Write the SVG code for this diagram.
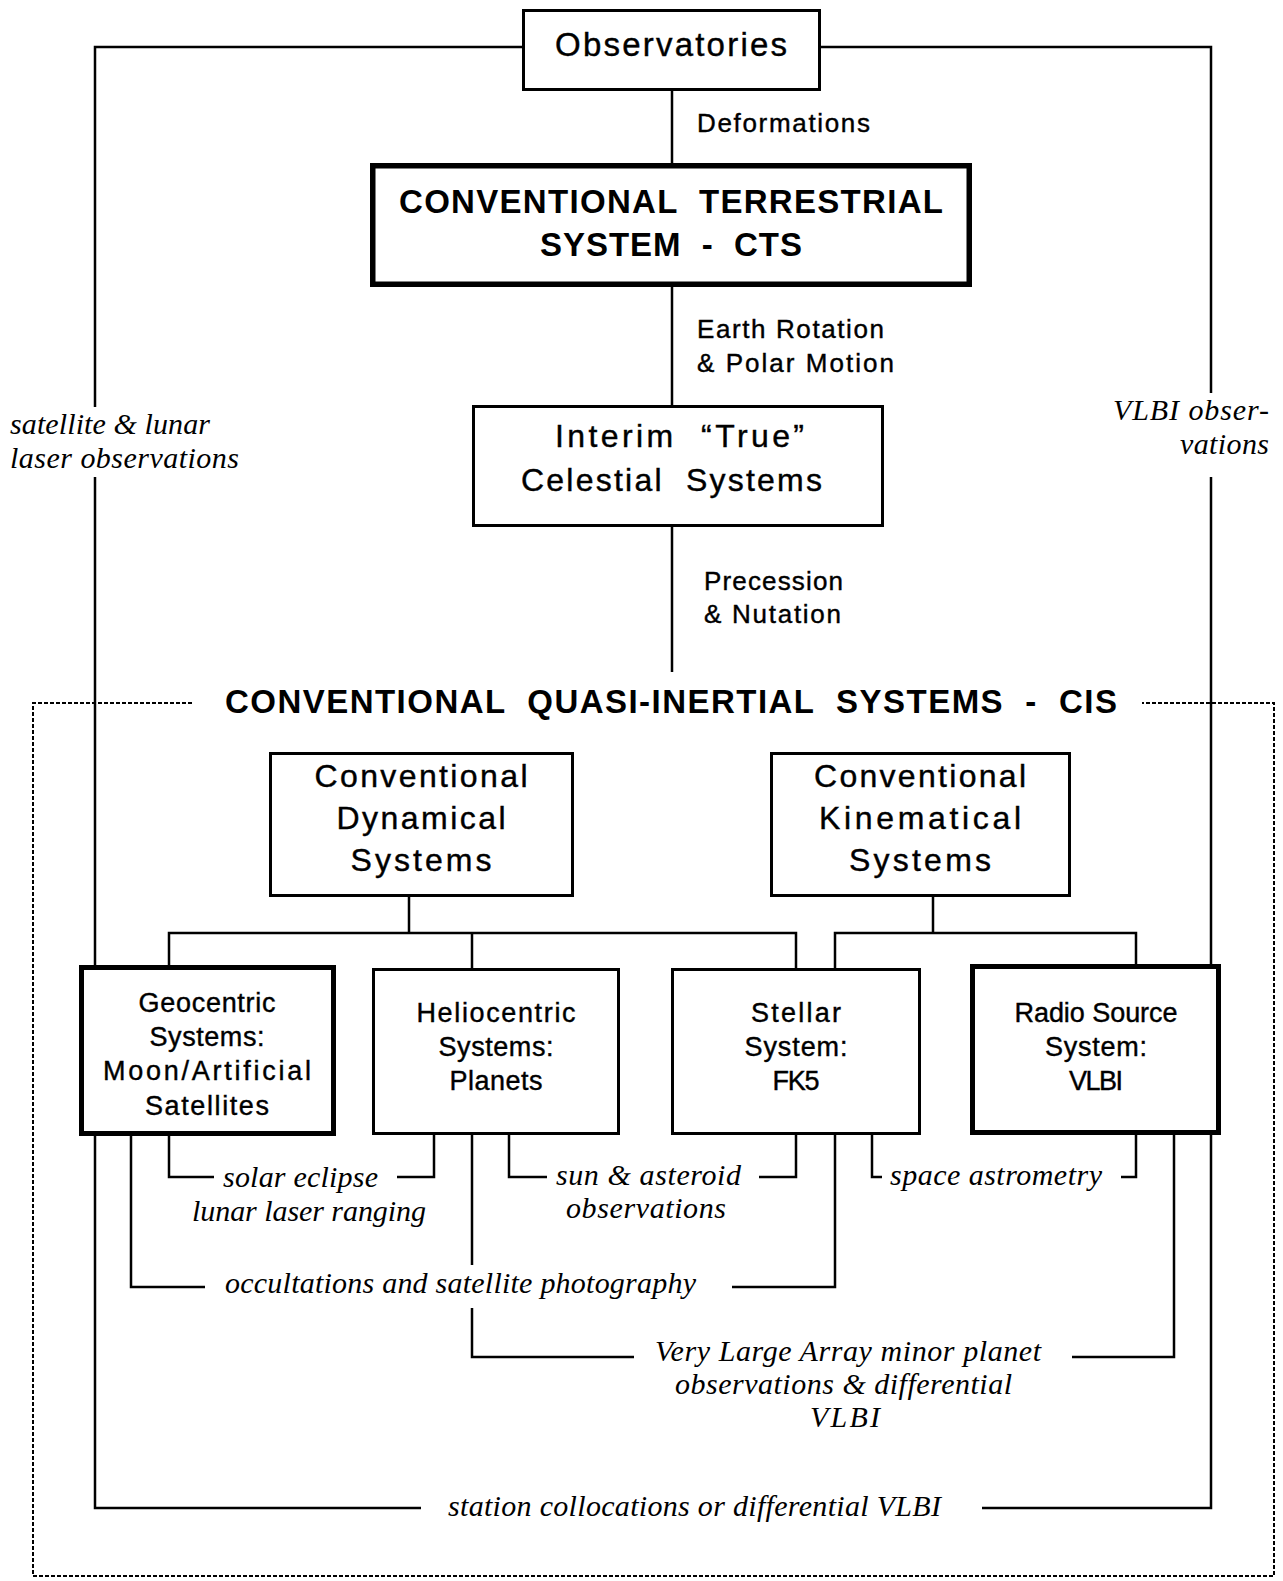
<svg xmlns="http://www.w3.org/2000/svg" width="1283" height="1581" viewBox="0 0 1283 1581">
<style>
text{fill:#000;white-space:pre}
.s{font-family:"Liberation Sans",Arial,sans-serif;stroke:#000;stroke-width:0.4}
.b{font-family:"Liberation Sans",Arial,sans-serif;font-weight:bold}
.i{font-family:"Liberation Serif","Times New Roman",serif;font-style:italic;font-size:30px}
.box{fill:#fff;stroke:#000;stroke-width:3}
.thick{stroke-width:5}
.cts{stroke-width:5.5}
.c{fill:none;stroke:#000;stroke-width:2.5}
.d{fill:none;stroke:#000;stroke-width:2;stroke-dasharray:4 2}
</style>
<rect width="1283" height="1581" fill="#fff"/>
<g id="connectors">
<path class="d" d="M192 703H33V1576H1274V703H1142"/>
<path class="c" d="M522 47H95V407M95 477V965M95 1136V1508H421"/>
<path class="c" d="M821 47H1211V393M1211 477V964M1211 1135V1508H982"/>
<path class="c" d="M672 91V163M672 287V405M672 527V672"/>
<path class="c" d="M409 897V933M169 965V933H796V968M472 933V968"/>
<path class="c" d="M933 897V933M835 968V933H1136V964"/>
<path class="c" d="M214 1177H169V1136M397 1177H434V1135"/>
<path class="c" d="M547 1177H509V1135M759 1177H796V1135"/>
<path class="c" d="M882 1177H872V1135M1121 1177H1136V1135"/>
<path class="c" d="M205 1287H131V1136M732 1287H835V1135"/>
<path class="c" d="M472 1135V1265M472 1308V1357H634M1072 1357H1174V1135"/>
</g>
<g id="labels">
<text class="s" x="697" y="132" font-size="26" textLength="173">Deformations</text>
<text class="s" x="697" y="338" font-size="26" textLength="187">Earth Rotation</text>
<text class="s" x="697" y="372" font-size="26" textLength="197">&amp; Polar Motion</text>
<text class="s" x="704" y="590" font-size="26" textLength="139">Precession</text>
<text class="s" x="704" y="623" font-size="26" textLength="137">&amp; Nutation</text>
<text class="b" x="225" y="713" font-size="33" textLength="892">CONVENTIONAL  QUASI-INERTIAL  SYSTEMS  -  CIS</text>
<text class="i" x="10" y="434" textLength="200">satellite &amp; lunar</text>
<text class="i" x="10" y="468" textLength="229">laser observations</text>
<text class="i" x="1269" y="420" text-anchor="end" textLength="156">VLBI obser-</text>
<text class="i" x="1269" y="454" text-anchor="end" textLength="89">vations</text>
<text class="i" x="223" y="1187" textLength="155">solar eclipse</text>
<text class="i" x="192" y="1221" textLength="234">lunar laser ranging</text>
<text class="i" x="556" y="1185" textLength="185">sun &amp; asteroid</text>
<text class="i" x="566" y="1218" textLength="160">observations</text>
<text class="i" x="890" y="1185" textLength="212">space astrometry</text>
<text class="i" x="225" y="1293" textLength="471">occultations and satellite photography</text>
<text class="i" x="655" y="1361" textLength="386">Very Large Array minor planet</text>
<text class="i" x="675" y="1394" textLength="337">observations &amp; differential</text>
<text class="i" x="810" y="1427" textLength="70">VLBI</text>
<text class="i" x="448" y="1516" textLength="493">station collocations or differential VLBI</text>
</g>
<g id="observatories">
<rect class="box" x="523.5" y="10.5" width="296" height="79"/>
<text class="s" x="671" y="56" font-size="33" text-anchor="middle" textLength="232">Observatories</text>
</g>
<g id="cts">
<rect class="box cts" x="372.75" y="165.75" width="596.5" height="118.5"/>
<text class="b" x="671" y="213" font-size="33" text-anchor="middle" textLength="544">CONVENTIONAL  TERRESTRIAL</text>
<text class="b" x="671" y="256" font-size="33" text-anchor="middle" textLength="262">SYSTEM  -  CTS</text>
</g>
<g id="interim">
<rect class="box" x="473.5" y="406.5" width="409" height="119"/>
<text class="s" x="555" y="447" font-size="32" textLength="249">Interim  “True”</text>
<text class="s" x="521" y="491" font-size="32" textLength="301">Celestial  Systems</text>
</g>
<g id="dynamical">
<rect class="box" x="270.5" y="753.5" width="302" height="142"/>
<text class="s" x="421" y="787" font-size="32" text-anchor="middle" textLength="213">Conventional</text>
<text class="s" x="421" y="829" font-size="32" text-anchor="middle" textLength="169">Dynamical</text>
<text class="s" x="421" y="871" font-size="32" text-anchor="middle" textLength="141">Systems</text>
</g>
<g id="kinematical">
<rect class="box" x="771.5" y="753.5" width="298" height="142"/>
<text class="s" x="920" y="787" font-size="32" text-anchor="middle" textLength="212">Conventional</text>
<text class="s" x="920" y="829" font-size="32" text-anchor="middle" textLength="202">Kinematical</text>
<text class="s" x="920" y="871" font-size="32" text-anchor="middle" textLength="142">Systems</text>
</g>
<g id="geocentric">
<rect class="box thick" x="81.5" y="967.5" width="252" height="166"/>
<text class="s" x="207" y="1012" font-size="27" text-anchor="middle" textLength="137">Geocentric</text>
<text class="s" x="207" y="1046" font-size="27" text-anchor="middle" textLength="115">Systems:</text>
<text class="s" x="207" y="1080" font-size="27" text-anchor="middle" textLength="208">Moon/Artificial</text>
<text class="s" x="207" y="1115" font-size="27" text-anchor="middle" textLength="124">Satellites</text>
</g>
<g id="heliocentric">
<rect class="box" x="373.5" y="969.5" width="245" height="164"/>
<text class="s" x="496" y="1022" font-size="27" text-anchor="middle" textLength="159">Heliocentric</text>
<text class="s" x="496" y="1056" font-size="27" text-anchor="middle" textLength="115">Systems:</text>
<text class="s" x="496" y="1090" font-size="27" text-anchor="middle" textLength="93">Planets</text>
</g>
<g id="stellar">
<rect class="box" x="672.5" y="969.5" width="247" height="164"/>
<text class="s" x="796" y="1022" font-size="27" text-anchor="middle" textLength="90">Stellar</text>
<text class="s" x="796" y="1056" font-size="27" text-anchor="middle" textLength="103">System:</text>
<text class="s" x="796" y="1090" font-size="27" text-anchor="middle" textLength="47">FK5</text>
</g>
<g id="radio">
<rect class="box thick" x="972.5" y="966.5" width="246" height="166"/>
<text class="s" x="1096" y="1022" font-size="27" text-anchor="middle" textLength="163">Radio Source</text>
<text class="s" x="1096" y="1056" font-size="27" text-anchor="middle" textLength="102">System:</text>
<text class="s" x="1096" y="1090" font-size="27" text-anchor="middle" textLength="54">VLBI</text>
</g>
</svg>
